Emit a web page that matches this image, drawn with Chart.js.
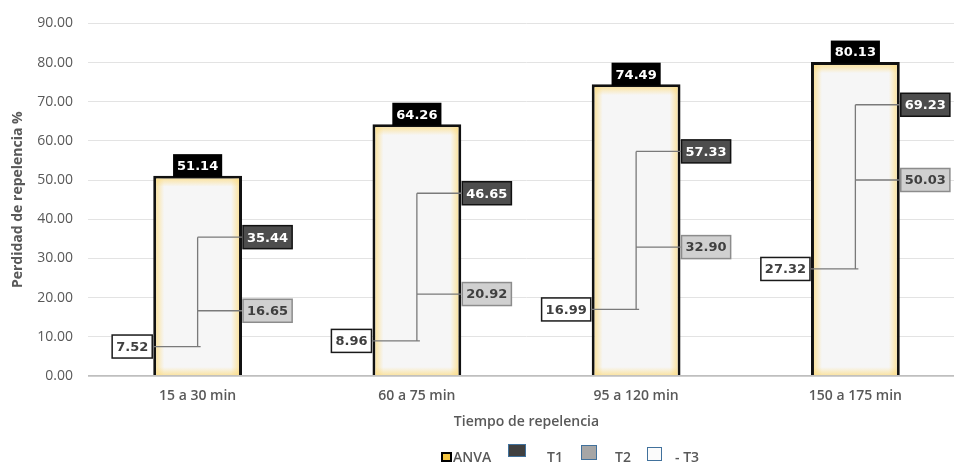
<!DOCTYPE html>
<html>
<head>
<meta charset="utf-8">
<script src="https://cdn.jsdelivr.net/npm/chart.js@4.4.1/dist/chart.umd.min.js"></script>
<style>
  body { margin: 0; background: #fff; overflow: hidden; width: 954px; height: 463px; position: relative; }
  #wrap { position: absolute; left: 0; top: 0; width: 966px; height: 463px; }
  .lg { position: absolute; font: 600 14px "Open Sans", sans-serif; color: #595959; line-height: 16px; }
  .mk { position: absolute; box-sizing: border-box; }
</style>
</head>
<body>
<div id="wrap"><canvas id="chart" width="966" height="463"></canvas></div>

<!-- leyenda -->
<div class="mk" style="left:441px;top:452px;width:11px;height:10px;background:#f4c542;border:2.5px solid #000;"></div>
<div class="lg" style="left:453px;top:449px;">ANVA</div>
<div class="mk" style="left:508px;top:444px;width:18px;height:13px;background:#404040;border:1px solid #41719c;"></div>
<div class="lg" style="left:547px;top:449px;">T1</div>
<div class="mk" style="left:581px;top:445px;width:16px;height:15px;background:#a6a6a6;border:1px solid #41719c;"></div>
<div class="lg" style="left:615px;top:449px;">T2</div>
<div class="mk" style="left:647px;top:447px;width:15px;height:14px;background:#fbfbfb;border:1px solid #41719c;"></div>
<div class="lg" style="left:675px;top:449px;">- T3</div>

<script>
// datos
var categorias = ['15 a 30 min', '60 a 75 min', '95 a 120 min', '150 a 175 min'];
var anva = [51.14, 64.26, 74.49, 80.13];
var t1 = [35.44, 46.65, 57.33, 69.23];
var t2 = [16.65, 20.92, 32.90, 50.03];
var t3 = [7.52, 8.96, 16.99, 27.32];

var gris = '#595959';

// brillo amarillo dentro de las barras
var brillo = {
    id: 'brillo',
    afterDatasetDraw: function (chart, args) {
        if (args.index !== 0) return;
        var ctx = chart.ctx;
        args.meta.data.forEach(function (bar) {
            var l = bar.x - bar.width / 2 + 3, r = bar.x + bar.width / 2 - 3;
            var t = bar.y + 3, b = bar.base;
            var g = 8;
            var col = 'rgba(252, 220, 130, 0.7)', none = 'rgba(252, 220, 130, 0)';
            ctx.save();
            var gr = ctx.createLinearGradient(l, 0, l + g, 0);
            gr.addColorStop(0, col); gr.addColorStop(1, none);
            ctx.fillStyle = gr; ctx.fillRect(l, t, g, b - t);
            gr = ctx.createLinearGradient(r, 0, r - g, 0);
            gr.addColorStop(0, col); gr.addColorStop(1, none);
            ctx.fillStyle = gr; ctx.fillRect(r - g, t, g, b - t);
            gr = ctx.createLinearGradient(0, t, 0, t + g);
            gr.addColorStop(0, col); gr.addColorStop(1, none);
            ctx.fillStyle = gr; ctx.fillRect(l, t, r - l, g);
            gr = ctx.createLinearGradient(0, b, 0, b - g);
            gr.addColorStop(0, col); gr.addColorStop(1, none);
            ctx.fillStyle = gr; ctx.fillRect(l, b - g, r - l, g);
            ctx.restore();
        });
    }
};

function caja(ctx, texto, x, y, alinear, fondo, borde, colorTexto) {
    ctx.font = 'bold 13px "DejaVu Sans"';
    var w = ctx.measureText(texto).width + 8, h = 23;
    var left = alinear === 'left' ? x : (alinear === 'right' ? x - w : x - w / 2);
    ctx.fillStyle = fondo;
    ctx.fillRect(left, y - h / 2, w, h);
    if (borde) {
        ctx.strokeStyle = borde;
        ctx.lineWidth = 1.5;
        ctx.strokeRect(left, y - h / 2, w, h);
    }
    ctx.fillStyle = colorTexto;
    ctx.textAlign = 'center';
    ctx.textBaseline = 'middle';
    ctx.fillText(texto, left + w / 2, y + 1);
}

// lineas max-min y etiquetas
var etiquetas = {
    id: 'etiquetas',
    afterDatasetsDraw: function (chart) {
        var ctx = chart.ctx;
        var barras = chart.getDatasetMeta(0).data;
        var p1 = chart.getDatasetMeta(1).data;
        var p2 = chart.getDatasetMeta(2).data;
        var p3 = chart.getDatasetMeta(3).data;
        ctx.save();
        barras.forEach(function (bar, i) {
            var x = bar.x, izq = bar.x - bar.width / 2, der = bar.x + bar.width / 2;
            ctx.strokeStyle = '#7a7a7a';
            ctx.lineWidth = 1.3;
            ctx.beginPath();
            ctx.moveTo(x, p3[i].y); ctx.lineTo(x, p1[i].y);
            ctx.moveTo(x, p1[i].y); ctx.lineTo(der, p1[i].y);
            ctx.moveTo(x, p2[i].y); ctx.lineTo(der, p2[i].y);
            ctx.moveTo(izq, p3[i].y); ctx.lineTo(x + 3, p3[i].y);
            ctx.stroke();

            caja(ctx, anva[i].toFixed(2), x, bar.y - 10, 'center', '#000', null, '#fff');
            caja(ctx, t1[i].toFixed(2), der + 1, p1[i].y, 'left', '#4d4d4d', '#111', '#fff');
            caja(ctx, t2[i].toFixed(2), der + 1, p2[i].y, 'left', '#d0d0d0', '#8c8c8c', '#3f3f3f');
            caja(ctx, t3[i].toFixed(2), izq - 1, p3[i].y, 'right', '#fff', '#1a1a1a', '#3f3f3f');
        });
        ctx.restore();
    }
};

var puntos = { type: 'line', showLine: false, pointRadius: 0, pointHoverRadius: 0 };

new Chart(document.getElementById('chart'), {
    type: 'bar',
    data: {
        labels: categorias,
        datasets: [
            {
                label: 'ANVA', data: anva,
                backgroundColor: '#f6f6f6', borderColor: '#111', borderWidth: 3,
                categoryPercentage: 1, barPercentage: 0.405
            },
            Object.assign({ label: 'T1', data: t1 }, puntos),
            Object.assign({ label: 'T2', data: t2 }, puntos),
            Object.assign({ label: '- T3', data: t3 }, puntos)
        ]
    },
    options: {
        responsive: false,
        animation: false,
        layout: { padding: { top: 22, right: 1 } },
        plugins: { legend: { display: false }, tooltip: { enabled: false } },
        scales: {
            x: {
                grid: { display: false, drawTicks: false },
                border: { display: false },
                ticks: { color: gris, padding: 12, font: { family: 'Open Sans', size: 14, weight: '600' } },
                title: {
                    display: true, text: 'Tiempo de repelencia', color: gris,
                    font: { family: 'Open Sans', size: 14, weight: '600' },
                    padding: { top: 0, bottom: 33 }
                },
                afterFit: function (s) { s.height = 87; }
            },
            y: {
                min: 0, max: 90,
                ticks: {
                    stepSize: 10, color: gris, padding: 15,
                    font: { family: 'Open Sans', size: 14 },
                    callback: function (v) { return v.toFixed(2); }
                },
                grid: {
                    drawTicks: false,
                    color: function (c) { return c.tick.value === 0 ? '#bfbfbf' : '#e3e3e3'; },
                    lineWidth: function (c) { return c.tick.value === 0 ? 1.8 : 1; }
                },
                border: { display: false },
                title: {
                    display: true, text: 'Perdidad de repelencia %', color: gris,
                    font: { family: 'Open Sans', size: 14, weight: 'bold' },
                    padding: { top: 10, bottom: 0 }
                },
                afterFit: function (s) { s.width = 88; }
            }
        }
    },
    plugins: [brillo, etiquetas]
});
</script>
</body>
</html>
